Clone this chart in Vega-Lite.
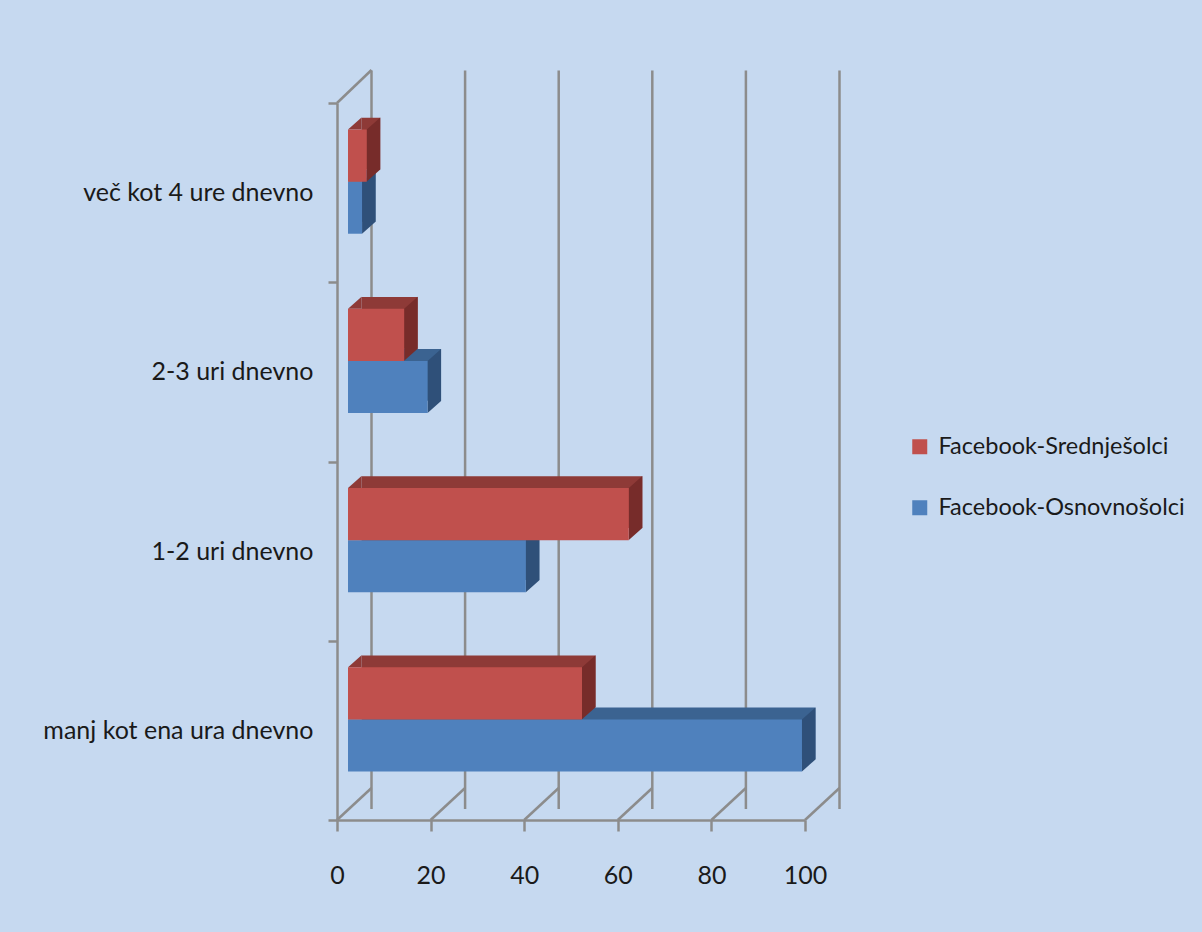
{
  "$schema": "https://vega.github.io/schema/vega-lite/v6.json",
  "autosize": "none",
  "width": 468,
  "height": 717,
  "padding": {"left": 348, "top": 92, "right": 386, "bottom": 123},
  "background": "#C6D9F0",
  "datasets": {
    "usage": [
      {"cas": "več kot 4 ure dnevno", "skupina": "Facebook-Osnovnošolci", "vrednost": 3},
      {"cas": "2-3 uri dnevno", "skupina": "Facebook-Osnovnošolci", "vrednost": 17},
      {"cas": "1-2 uri dnevno", "skupina": "Facebook-Osnovnošolci", "vrednost": 38},
      {"cas": "manj kot ena ura dnevno", "skupina": "Facebook-Osnovnošolci", "vrednost": 97},
      {"cas": "več kot 4 ure dnevno", "skupina": "Facebook-Srednješolci", "vrednost": 4},
      {"cas": "2-3 uri dnevno", "skupina": "Facebook-Srednješolci", "vrednost": 12},
      {"cas": "1-2 uri dnevno", "skupina": "Facebook-Srednješolci", "vrednost": 60},
      {"cas": "manj kot ena ura dnevno", "skupina": "Facebook-Srednješolci", "vrednost": 50}
    ],
    "grid": [{"v": 0}, {"v": 20}, {"v": 40}, {"v": 60}, {"v": 80}, {"v": 100}]
  },
  "config": {
    "font": "Lato",
    "view": {"stroke": null},
    "axis": {
      "labelFont": "Lato",
      "labelFontSize": 25,
      "labelColor": "#1A1A1A",
      "domainColor": "#8C8C8C",
      "domainWidth": 2.5,
      "tickColor": "#8C8C8C",
      "tickWidth": 2.5,
      "grid": false,
      "title": null
    },
    "legend": {
      "labelFont": "Lato",
      "labelFontSize": 23.5,
      "labelColor": "#1A1A1A",
      "labelLimit": 400
    }
  },
  "layer": [
    {
      "data": {"name": "grid"},
      "mark": {"type": "rule", "color": "#8C8C8C", "strokeWidth": 2.5, "xOffset": 23.5, "yOffset": -21.5},
      "encoding": {
        "x": {"field": "v", "type": "quantitative", "scale": {"domain": [0, 100], "nice": false},
          "axis": {"values": [0, 20, 40, 60, 80, 100], "tickSize": 11, "labelPadding": 32, "labelFlush": false, "offset": 11, "position": -11}}
      }
    },
    {
      "data": {"name": "grid"},
      "mark": {"type": "point", "shape": "M-11,11L23.5,-21", "size": 4, "filled": false, "stroke": "#8C8C8C", "strokeWidth": 2.5, "opacity": 1},
      "encoding": {
        "x": {"field": "v", "type": "quantitative"},
        "y": {"datum": "manj kot ena ura dnevno", "type": "nominal", "bandPosition": 1}
      }
    },
    {
      "data": {"name": "grid"},
      "transform": [{"filter": "datum.v === 0"}],
      "mark": {"type": "point", "shape": "M-11,11L23.5,-22", "size": 4, "filled": false, "stroke": "#8C8C8C", "strokeWidth": 2.5, "opacity": 1},
      "encoding": {
        "x": {"field": "v", "type": "quantitative"},
        "y": {"datum": "več kot 4 ure dnevno", "type": "nominal", "bandPosition": 0}
      }
    },
    {
      "data": {"name": "usage"},
      "transform": [{"filter": "datum.skupina === 'Facebook-Osnovnošolci'"}],
      "mark": {"type": "bar", "color": "#3B6391", "opacity": 1, "height": {"band": 0.29}, "xOffset": 13.5, "x2Offset": 13.5, "yOffset": 14},
      "encoding": {
        "y": {"field": "cas", "type": "nominal",
          "scale": {"domain": ["več kot 4 ure dnevno", "2-3 uri dnevno", "1-2 uri dnevno", "manj kot ena ura dnevno"], "paddingInner": 0, "paddingOuter": 0},
          "axis": {"tickBand": "extent", "tickSize": 9, "labelPadding": 15, "labelLimit": 400, "offset": 11, "position": 11}},
        "x": {"field": "vrednost", "type": "quantitative"}
      }
    },
    {
      "data": {"name": "usage"},
      "transform": [{"filter": "datum.skupina === 'Facebook-Srednješolci'"}],
      "mark": {"type": "bar", "color": "#8E3A37", "opacity": 1, "height": {"band": 0.29}, "xOffset": 13.5, "x2Offset": 13.5, "yOffset": -38},
      "encoding": {
        "y": {"field": "cas", "type": "nominal"},
        "x": {"field": "vrednost", "type": "quantitative"}
      }
    },
    {
      "data": {"name": "usage"},
      "mark": {"type": "point", "shape": "M0,-26L13.5,-38L13.5,-26Z", "size": 4, "filled": true, "opacity": 1, "strokeWidth": 0},
      "encoding": {
        "y": {"field": "cas", "type": "nominal"},
        "yOffset": {"field": "skupina", "type": "nominal",
          "scale": {"domain": ["Facebook-Srednješolci", "Facebook-Osnovnošolci"], "paddingInner": 0, "paddingOuter": 0.72}},
        "x": {"datum": 0, "type": "quantitative"},
        "color": {"field": "skupina", "type": "nominal", "legend": null,
          "scale": {"domain": ["Facebook-Srednješolci", "Facebook-Osnovnošolci"], "range": ["#8E3A37", "#3B6391"]}}
      }
    },
    {
      "data": {"name": "usage"},
      "mark": {"type": "point", "shape": "M0,-26L13.5,-38L13.5,14L0,26Z", "size": 4, "filled": true, "opacity": 1, "strokeWidth": 0},
      "encoding": {
        "y": {"field": "cas", "type": "nominal"},
        "yOffset": {"field": "skupina", "type": "nominal"},
        "x": {"field": "vrednost", "type": "quantitative"},
        "color": {"field": "skupina", "type": "nominal", "legend": null,
          "scale": {"domain": ["Facebook-Srednješolci", "Facebook-Osnovnošolci"], "range": ["#772C2A", "#2F5079"]}}
      }
    },
    {
      "data": {"name": "usage"},
      "mark": {"type": "bar", "opacity": 1},
      "encoding": {
        "y": {"field": "cas", "type": "nominal"},
        "yOffset": {"field": "skupina", "type": "nominal"},
        "x": {"field": "vrednost", "type": "quantitative"},
        "color": {"field": "skupina", "type": "nominal",
          "scale": {"domain": ["Facebook-Srednješolci", "Facebook-Osnovnošolci"], "range": ["#C0504D", "#4F81BD"]},
          "legend": {"title": null, "orient": "none", "legendX": 560, "legendY": 343, "padding": 0,
            "symbolType": "square", "symbolSize": 225, "symbolStrokeWidth": 0, "labelOffset": 7, "rowPadding": 36}}
      }
    }
  ],
  "resolve": {"scale": {"color": "independent"}}
}
